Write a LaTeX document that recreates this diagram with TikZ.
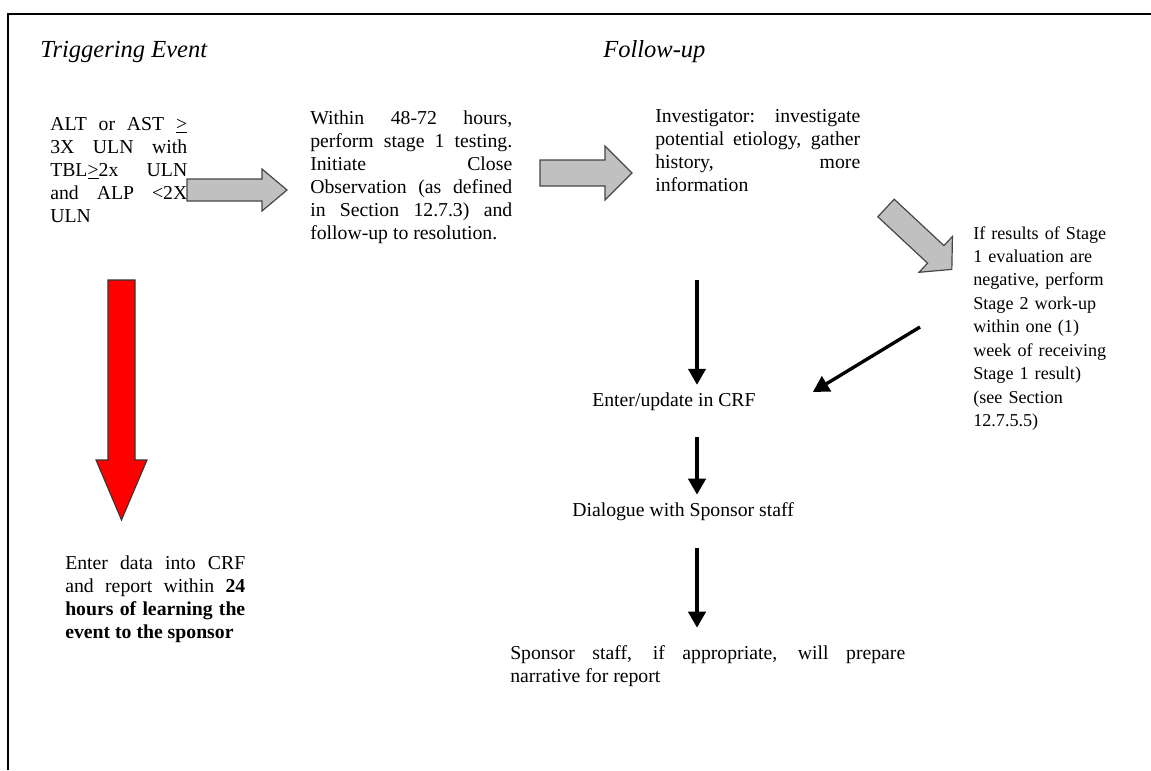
\documentclass[tikz,border=0pt]{standalone}
\usepackage{fontspec}
\setmainfont{Liberation Serif}
\usetikzlibrary{arrows.meta}

\definecolor{arrgrey}{RGB}{192,192,192}
\definecolor{arredge}{RGB}{70,70,70}
\definecolor{alarmred}{RGB}{255,0,0}

\tolerance=9999
\hbadness=10000
\hyphenpenalty=10000
\exhyphenpenalty=10000

\tikzset{
  txt/.style={inner sep=0pt, anchor=north west, align=justify,
    font=\fontsize{14.8pt}{17.25pt}\selectfont},
  lbl/.style={inner sep=6pt, anchor=west,
    font=\fontsize{14.8pt}{17.25pt}\selectfont},
  hdr/.style={inner sep=0pt, anchor=west,
    font=\fontsize{18.4pt}{22pt}\selectfont\itshape},
  blockarr/.style={draw=arredge, fill=arrgrey, line width=0.9pt, line join=miter},
  redarr/.style={draw=black!80, fill=alarmred, line width=0.8pt, line join=miter},
  blk/.style={-{Triangle[length=12pt,width=13pt]}, line width=2.5pt},
  % length / half shaft / half head / head length
  pics/blockarrow/.style args={#1/#2/#3/#4}{code={
    \draw[pic actions] (0,-#2) -- (#1-#4,-#2) -- (#1-#4,-#3) -- (#1,0)
      -- (#1-#4,#3) -- (#1-#4,#2) -- (0,#2) -- cycle;
  }},
}

\begin{document}
\begin{tikzpicture}[x=0.75pt, y=-0.75pt]
  \useasboundingbox (0,0) rectangle (1151,770);
  % frame
  \draw[line width=1.2pt] (8,770) -- (8,14) -- (1151,14);

  % headings
  \node[hdr] (trighead) at (40,52) {Triggering Event};
  \node[hdr] (fuphead) at (603,52) {Follow-up};

  % text blocks
  \node[txt, text width=102.75pt] (trig) at (50,117)
    {ALT or AST \underline{>}\linebreak 3X ULN with\linebreak
     TBL\underline{>}2x ULN\linebreak and ALP <2X\linebreak ULN};
  \node[txt, text width=151.5pt] (stage1) at (310,111)
    {Within 48-72 hours,\linebreak perform stage 1 testing.\linebreak
     Initiate Close\linebreak Observation (as defined\linebreak
     in Section 12.7.3) and\linebreak follow-up to resolution.};
  \node[txt, text width=153.75pt] (invest) at (655,109)
    {Investigator: investigate\linebreak potential etiology, gather\linebreak
     history, more\linebreak information};
  \node[txt, text width=105pt, align=left,
    font=\fontsize{13.6pt}{17.6pt}\selectfont] (stage2) at (973,226)
    {If results of Stage\\ 1 evaluation are\\ negative, perform\\
     Stage 2 work-up\\ within one (1)\\ week of receiving\\
     Stage 1 result)\\ (see Section\\ 12.7.5.5)};
  \node[txt, text width=135pt] (report) at (65,556)
    {Enter data into CRF\linebreak and report within \textbf{24}\linebreak
     \textbf{hours of learning the}\linebreak \textbf{event to the sponsor}};
  \node[lbl] (crf) at (584,402) {Enter/update in CRF};
  \node[lbl] (dlg) at (564,512) {Dialogue with Sponsor staff};
  \node[txt, text width=296.25pt] (narr) at (510,645)
    {Sponsor staff, if appropriate, will prepare\linebreak narrative for report};

  % block arrows
  \pic[blockarr] (g1) at (187,190) {blockarrow={100/11/21/25}};
  \pic[blockarr] (g2) at (540,173) {blockarrow={92/13/27/27}};
  \pic[blockarr, rotate=-43] (g3) at (886,208) {blockarrow={90/12/24.5/22}};
  \pic[redarr, rotate=-90] (r1) at (121.5,280) {blockarrow={240/13.5/25.5/60}};

  % follow-up arrows
  \coordinate (v1) at (697,280);
  \coordinate (v2) at (697,437);
  \coordinate (v3) at (697,548);
  \coordinate (d1) at (920,327);
  \draw[blk] (v1) -- (v1 |- crf.north);
  \draw[blk] (v2) -- (v2 |- dlg.north);
  \draw[blk, shorten >=13pt] (v3) -- (v3 |- narr.north);
  \draw[blk] (d1) -- ([shift={(49,-10)}]crf.east);
\end{tikzpicture}
\end{document}
